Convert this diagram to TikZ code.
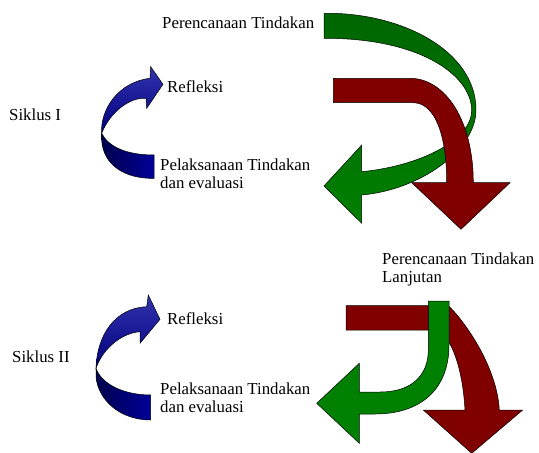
\documentclass[tikz,border=0pt]{standalone}
\usepackage{fontspec}
\setmainfont{Liberation Serif}
\begin{document}
\begin{tikzpicture}[x=1pt,y=-1pt,
  lbl/.style={anchor=base west,inner sep=0pt,align=left,font=\fontsize{16.8}{18}\selectfont},
  shp/.style={draw=black,line width=0.5pt,line join=miter},
  greenup/.style={shp,top color=green!40!black,bottom color=green!50!black},
  greenflat/.style={shp,fill=green!50!black},
  redflat/.style={shp,fill=red!50!black},
  blueup/.style={shp,top color=blue!60!black!80!white,bottom color=blue!50!black},
  bluelow/.style={shp,left color=blue!30!black,right color=blue!60!black}]
\useasboundingbox (0,0) rectangle (539,453);

% ---------- Siklus I ----------
% green arrow (top)
\path[greenup] (324,13.3) .. controls (400,12) and (476,50) .. (476,110)
  .. controls (476,150) and (420,190) .. (361.7,195) -- (361.7,223.3) -- (324,186)
  -- (361.7,145) -- (361.7,171.7) .. controls (420,166) and (472,140) .. (471.7,110)
  .. controls (471,75) and (420,38) .. (324,38.3) -- cycle;
% red arrow (top)
\path[redflat] (333.3,78.3) -- (410,78.3) .. controls (445,78.3) and (473.3,120) .. (473.3,182.7)
  -- (510,182.7) -- (461,229.3) -- (411.7,182.7) -- (446.7,182.7)
  .. controls (446.7,135) and (435,102.7) .. (413,102.7) -- (333.3,102.7) -- cycle;
% blue arrow 1
\path[bluelow] (101.7,133.3) .. controls (108,146) and (125,155) .. (154,155) -- (154,178.3)
  .. controls (125,179) and (103,165) .. (101.7,140) -- cycle;
\path[blueup] (150,78.3) -- (150.7,66.7) -- (163,84.3) -- (146.7,108.3) -- (146,98.3)
  .. controls (130,97) and (110,112) .. (101.7,133.3)
  .. controls (100,110) and (118,82) .. (150,78.3) -- cycle;

% ---------- Siklus II ----------
% red arrow (bottom)
\path[redflat] (346,305.7) -- (448.3,305.7) .. controls (462,318) and (497,365) .. (499.3,410)
  -- (522.7,410) -- (471.7,453.3) -- (423.3,410) -- (465,410)
  .. controls (463,375) and (455,345) .. (440,330) -- (346,330) -- cycle;
% green arrow (bottom)
\path[greenflat] (428.3,301) -- (449,301) -- (449,345) .. controls (449,390) and (420,414) .. (375,414)
  -- (359.3,414) -- (359.3,443.3) -- (316.7,403.3) -- (359.3,363.3) -- (359.3,392) -- (380,392)
  .. controls (412,392) and (428.3,375) .. (428.3,350) -- cycle;
% blue arrow 2
\path[bluelow] (96,368.3) .. controls (102,385) and (125,395) .. (150.7,395) -- (150.7,420)
  .. controls (120,420) and (98,400) .. (96,376.7) -- cycle;
\path[blueup] (146.7,306.7) -- (148.3,295) -- (160,319.3) -- (140,343.3) -- (140,331.7)
  .. controls (122,333) and (103,348) .. (96,368.3)
  .. controls (97,335) and (115,308) .. (146.7,306.7) -- cycle;

% ---------- texts ----------
\node[lbl] (plan1) at (162,28) {Perencanaan Tindakan};
\node[lbl] (refl1) at (167,92) {Refleksi};
\node[lbl] (sik1) at (9,120.5) {Siklus I};
\node[lbl] (pel1) at (160,188) {Pelaksanaan Tindakan\\dan evaluasi};
\node[lbl] (plan2) at (382,282) {Perencanaan Tindakan\\Lanjutan};
\node[lbl] (refl2) at (167,324) {Refleksi};
\node[lbl] (sik2) at (12,362) {Siklus II};
\node[lbl] (pel2) at (160,412) {Pelaksanaan Tindakan\\dan evaluasi};
\end{tikzpicture}
\end{document}
